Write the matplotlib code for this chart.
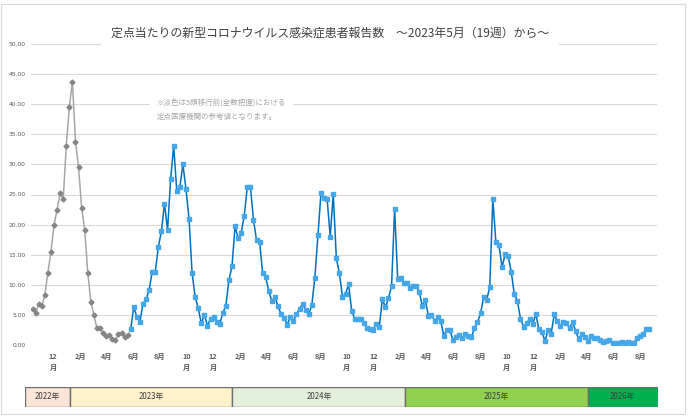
import matplotlib
matplotlib.use("Agg")
import matplotlib.pyplot as plt
import matplotlib.patches as mpatches
import pandas as pd

plt.rcParams['font.family'] = ['Noto Sans CJK JP', 'DejaVu Sans']

# weekly values, before 5類移行 (light/gray) and after (blue)
before_vals = [6.04, 5.26, 6.81, 6.42, 8.31, 12.0, 15.5, 19.9, 22.5, 25.2, 24.25, 33.1,
               39.6, 43.7, 33.8, 29.5, 22.8, 19.1, 12.0, 7.2, 4.93, 2.77, 2.88, 1.94,
               1.55, 1.72, 0.94, 0.83, 1.77, 1.99, 1.27, 1.61]
after_vals = [2.66, 6.37, 4.6, 3.88, 6.87, 7.59, 9.14, 12.18, 12.18, 16.3,
              18.9, 23.5, 19.1, 27.5, 33.06, 25.6, 26.2, 30.0, 25.9, 21.0,
              11.9, 7.97, 6.09, 3.6, 5.04, 3.2, 4.37, 4.6, 3.77, 3.54,
              5.26, 6.53, 10.8, 13.07, 19.77, 17.7, 18.66, 21.5, 26.3, 26.3,
              20.8, 17.4, 17.1, 11.9, 11.24, 8.9, 7.3, 8.03, 6.42, 5.09,
              4.43, 3.38, 4.6, 4.04, 5.09, 6.04, 6.87, 5.81, 5.09, 6.59,
              11.18, 18.27, 25.2, 24.5, 24.3, 18.0, 25.08, 14.4, 11.9, 8.0,
              8.47, 10.1, 5.7, 4.3, 4.3, 4.3, 3.6, 2.77, 2.66, 2.55,
              3.54, 2.99, 7.64, 6.26, 7.75, 9.8, 22.6, 10.96, 11.13, 10.24,
              10.24, 9.5, 9.75, 9.75, 8.86, 6.53, 7.42, 4.87, 4.98, 4.04,
              4.6, 4.04, 1.55, 2.49, 2.49, 0.83, 1.38, 1.66, 1.16, 1.77,
              1.5, 1.27, 2.77, 3.77, 5.26, 7.92, 7.48, 9.69, 24.25, 17.05,
              16.6, 12.9, 15.06, 14.78, 12.18, 8.42, 7.36, 4.37, 3.05, 3.6,
              4.32, 3.43, 5.15, 2.6, 2.16, 0.66, 2.49, 1.83, 5.09, 3.99,
              3.21, 3.77, 3.6, 2.8, 3.8, 2.3, 1.0, 1.9, 1.4, 0.6,
              1.5, 1.2, 1.1, 0.8, 0.5, 0.7, 0.9, 0.4, 0.4, 0.4,
              0.5, 0.4, 0.5, 0.4, 0.4, 1.2, 1.5, 1.9, 2.66, 2.66]

start = pd.Timestamp('2022-10-15')
n_weeks = len(before_vals) + len(after_vals)
week_dates = pd.date_range(start, periods=n_weeks, freq='7D')
before_dates = week_dates[:len(before_vals)]
after_dates = week_dates[len(before_vals):]

month_ticks = ['2022-12-01', '2023-02-01', '2023-04-01', '2023-06-01', '2023-08-01', '2023-10-01',
               '2023-12-01', '2024-02-01', '2024-04-01', '2024-06-01', '2024-08-01', '2024-10-01',
               '2024-12-01', '2025-02-01', '2025-04-01', '2025-06-01', '2025-08-01', '2025-10-01',
               '2025-12-01', '2026-02-01', '2026-04-01', '2026-06-01', '2026-08-01']
month_labels = ['12\n月', '2月', '4月', '6月', '8月', '10\n月',
                '12\n月', '2月', '4月', '6月', '8月', '10\n月',
                '12\n月', '2月', '4月', '6月', '8月', '10\n月',
                '12\n月', '2月', '4月', '6月', '8月']

year_labels = ['2022年', '2023年', '2024年', '2025年', '2026年']
year_colors = ['#FCE4D6', '#FFF2CC', '#E2EFDA', '#92D050', '#00B050']

title = '定点当たりの新型コロナウイルス感染症患者報告数　～2023年5月（19週）から～'
note = '※淡色は5類移行前(全数把握)における\n定点医療機関の参考値となります。'

W, H = 690, 420
fig = plt.figure(figsize=(W / 100, H / 100), dpi=100)
fig.patch.set_facecolor('white')

ax = fig.add_axes([31 / W, 75 / H, 626 / W, 301 / H])
ax.plot(before_dates, before_vals, color='#A6A6A6', lw=1.1, marker='D', ms=2.5,
        mfc='#858585', mec='#858585', zorder=3)
ax.plot(after_dates, after_vals, color='#0070C0', lw=1.1, marker='s', ms=2.3,
        mfc='#45A6E8', mec='#45A6E8', zorder=3)

ax.set_xlim(start - pd.Timedelta(days=3.5), start + pd.Timedelta(days=203.5 * 7))
ax.set_ylim(0, 50)
ax.set_yticks(range(0, 51, 5))
ax.set_yticklabels([f'{v:.2f}' for v in range(0, 51, 5)], fontsize=4.3, color='#595959',
                   family='DejaVu Sans')
ax.set_xticks(pd.to_datetime(month_ticks))
ax.set_xticklabels(month_labels, fontsize=5.2, color='#595959', linespacing=1.6,
                   fontweight='bold')
ax.tick_params(length=0, pad=6)
ax.tick_params(axis='y', pad=4)
ax.grid(axis='y', color='#D9D9D9', lw=0.8)
ax.set_axisbelow(True)
for s in ax.spines.values():
    s.set_visible(False)

fig.text(330 / W, 1 - 33 / H, title, ha='center', va='center', fontsize=8.6, color='#404040',
         bbox=dict(boxstyle='square,pad=0.8', fc='white', ec='none'))
fig.text(157 / W, 1 - 110 / H, note, ha='left', va='center', fontsize=5.4, color='#A6A6A6',
         linespacing=1.8, bbox=dict(boxstyle='square,pad=0.9', fc='white', ec='none'))

# year band under the axis
yax = fig.add_axes([25 / W, (H - 407) / H, 633 / W, 20 / H])
year_edges = [0, 0.0717, 0.3276, 0.6009, 0.8888, 1.0]
for i, lab in enumerate(year_labels):
    x0, x1 = year_edges[i], year_edges[i + 1]
    yax.add_patch(mpatches.Rectangle((x0, 0), x1 - x0, 1, fc=year_colors[i], ec='#6E6E6E', lw=1.0))
    yax.text((x0 + x1) / 2, 0.5, lab, ha='center', va='center', fontsize=5.7, color='#404040')
yax.set_xlim(0, 1)
yax.set_ylim(0, 1)
yax.axis('off')

# chart area frame
fig.add_artist(mpatches.Rectangle((1 / W, 1 - 414 / H), 684 / W, 410 / H, transform=fig.transFigure,
                                  fill=False, ec='#D9D9D9', lw=0.8))

fig.savefig('out.png', dpi=100)
